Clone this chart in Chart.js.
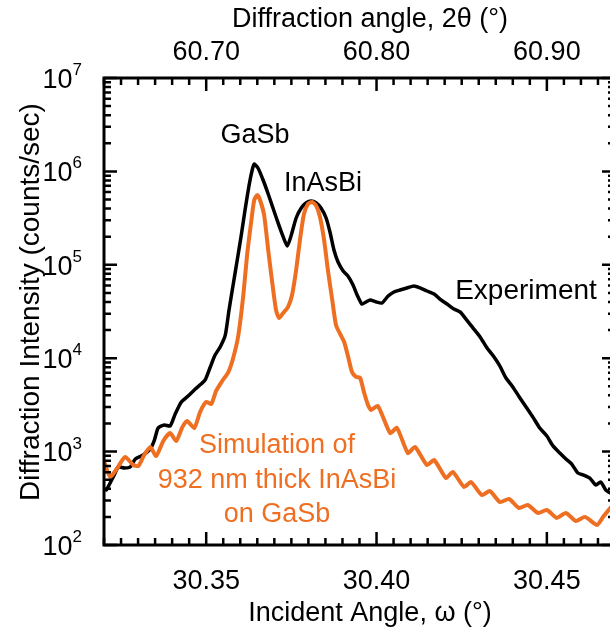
<!DOCTYPE html>
<html>
<head>
<meta charset="utf-8">
<script src="https://cdn.jsdelivr.net/npm/chart.js@4.4.1/dist/chart.umd.min.js"></script>
<style>
  html, body { margin: 0; padding: 0; background: #fff; overflow: hidden; }
  #wrap { width: 610px; height: 636px; overflow: hidden; }
</style>
</head>
<body>
<div id="wrap"><canvas id="xrd" width="618" height="636"></canvas></div>
<script>
// incident angle omega (deg) and counts/sec
const omegaExp = [30.3207, 30.3218, 30.3230, 30.3242, 30.3260, 30.3277, 30.3292, 30.3315, 30.3336, 30.3348,
  30.3359, 30.3377, 30.3394, 30.3409, 30.3427, 30.3447, 30.3468, 30.3485, 30.3497, 30.3512,
  30.3526, 30.3541, 30.3556, 30.3567, 30.3579, 30.3591, 30.3603, 30.3614, 30.3626, 30.3635,
  30.3641, 30.3652, 30.3667, 30.3682, 30.3696, 30.3711, 30.3726, 30.3738, 30.3749, 30.3764,
  30.3779, 30.3793, 30.3808, 30.3823, 30.3837, 30.3852, 30.3864, 30.3875, 30.3887, 30.3902,
  30.3916, 30.3931, 30.3943, 30.3957, 30.3969, 30.3981, 30.3999, 30.4016, 30.4034, 30.4051,
  30.4069, 30.4089, 30.4110, 30.4128, 30.4148, 30.4169, 30.4189, 30.4207, 30.4227, 30.4245,
  30.4265, 30.4283, 30.4304, 30.4324, 30.4345, 30.4362, 30.4380, 30.4400, 30.4421, 30.4441,
  30.4459, 30.4479, 30.4500, 30.4518, 30.4538, 30.4556, 30.4573, 30.4591, 30.4608, 30.4626,
  30.4644, 30.4658, 30.4673, 30.4691];
const countsExp = [388, 461, 561, 684, 667, 684, 834, 920, 1070, 1330,
  1790, 1930, 1880, 2530, 3400, 3940, 4680, 5300, 5850, 8050,
  10800, 13200, 17700, 32800, 60800, 112000, 208000, 386000, 715000, 1035000,
  1200000, 1087000, 809000, 573000, 405000, 281000, 199000, 159000, 203000, 317000,
  405000, 459000, 482000, 459000, 405000, 317000, 219000, 144000, 107000, 85900,
  75900, 60800, 47500, 38000, 40000, 42000, 40000, 39000, 46300, 51200,
  53700, 56500, 59300, 56500, 52400, 48700, 42000, 38000, 33600, 31300,
  25600, 21100, 16900, 12900, 10300, 8250, 6140, 4920, 3750, 2930,
  2340, 1790, 1470, 1150, 966, 834, 736, 590, 561, 521,
  439, 473, 388, 352];

// simulated curve, 932 nm InAsBi on GaSb
const omegaSim = [30.3201, 30.3218, 30.3239, 30.3262, 30.3286, 30.3301, 30.3318, 30.3336, 30.3353, 30.3374,
  30.3394, 30.3412, 30.3430, 30.3444, 30.3465, 30.3482, 30.3500, 30.3515, 30.3529, 30.3547,
  30.3565, 30.3579, 30.3594, 30.3609, 30.3620, 30.3632, 30.3641, 30.3650, 30.3658, 30.3670,
  30.3682, 30.3694, 30.3705, 30.3714, 30.3726, 30.3740, 30.3752, 30.3764, 30.3776, 30.3787,
  30.3799, 30.3811, 30.3823, 30.3834, 30.3846, 30.3858, 30.3870, 30.3881, 30.3893, 30.3905,
  30.3916, 30.3928, 30.3940, 30.3952, 30.3963, 30.3975, 30.3984, 30.4004, 30.4040, 30.4060,
  30.4092, 30.4113, 30.4148, 30.4169, 30.4204, 30.4224, 30.4257, 30.4277, 30.4309, 30.4333,
  30.4362, 30.4389, 30.4418, 30.4444, 30.4474, 30.4500, 30.4529, 30.4556, 30.4585, 30.4612,
  30.4647, 30.4667, 30.4691];
const countsSim = [774, 535, 667, 875, 719, 702, 920, 1120, 897, 1300,
  1580, 1300, 1830, 2130, 1790, 2650, 3400, 3240, 4460, 5700,
  7110, 10000, 17300, 47500, 127000, 287000, 494000, 558000, 494000, 341000,
  144000, 63800, 32800, 26900, 30500, 35300, 47500, 87900, 194000, 350000,
  448000, 470000, 427000, 325000, 185000, 83800, 42000, 22600, 18200, 14900,
  10600, 7110, 6300, 6140, 4350, 3160, 2790, 3080, 1580, 1790,
  966, 1120, 719, 813, 521, 605, 418, 473, 343, 378,
  288, 311, 249, 268, 220, 237, 195, 220, 181, 200,
  164, 204, 262];

const omegaLabels = [30.35, 30.40, 30.45];
const twoThetaLabels = [60.70, 60.80, 60.90];
const decadeExps = [2, 3, 4, 5, 6, 7];

const ORANGE = '#ef6f22';
const FONT = '"Liberation Sans", Arial, sans-serif';

function toPoints(xs, ys) {
  return xs.map((v, i) => ({ x: v, y: ys[i] }));
}

const framePlugin = {
  id: 'frame',
  afterDatasetsDraw(chart) {
    const { ctx, chartArea: a } = chart;
    const x = chart.scales.x, x2 = chart.scales.x2, y = chart.scales.y;
    ctx.save();
    ctx.strokeStyle = '#000';
    ctx.lineWidth = 2.5;

    // ticks, all pointing inward
    ctx.beginPath();
    for (let k = Math.ceil(x.min / 0.005 - 1e-6); k * 0.005 <= x.max + 1e-9; k++) {
      const px = x.getPixelForValue(k * 0.005);
      const len = k % 10 === 0 ? 13 : 7;
      ctx.moveTo(px, a.bottom);
      ctx.lineTo(px, a.bottom - len);
    }
    for (let k = Math.ceil(x2.min / 0.01 - 1e-6); k * 0.01 <= x2.max + 1e-9; k++) {
      const px = x2.getPixelForValue(k * 0.01);
      const len = k % 10 === 0 ? 13 : 7;
      ctx.moveTo(px, a.top);
      ctx.lineTo(px, a.top + len);
    }
    decadeExps.forEach(e => {
      for (let m = 1; m <= 9; m++) {
        const v = m * Math.pow(10, e);
        if (v > y.max * 1.0001) break;
        const py = y.getPixelForValue(v);
        const len = m === 1 ? 13 : 7;
        ctx.moveTo(a.left, py);
        ctx.lineTo(a.left + len, py);
        ctx.moveTo(a.right, py);
        ctx.lineTo(a.right - len, py);
      }
    });
    ctx.stroke();

    ctx.lineWidth = 3;
    ctx.strokeRect(a.left, a.top, a.right - a.left, a.bottom - a.top);

    // tick labels
    ctx.fillStyle = '#000';
    ctx.textBaseline = 'alphabetic';
    ctx.textAlign = 'center';
    ctx.font = '27px ' + FONT;
    omegaLabels.forEach(v => ctx.fillText(v.toFixed(2), x.getPixelForValue(v), 589));
    twoThetaLabels.forEach(v => ctx.fillText(v.toFixed(2), x2.getPixelForValue(v), 60));

    decadeExps.forEach(e => {
      const py = y.getPixelForValue(Math.pow(10, e));
      const right = 82;
      ctx.font = '17px ' + FONT;
      const we = ctx.measureText(String(e)).width;
      ctx.font = '27px ' + FONT;
      const wb = ctx.measureText('10').width;
      ctx.textAlign = 'left';
      ctx.fillText('10', right - we - wb, py + 9.7);
      ctx.font = '17px ' + FONT;
      ctx.fillText(String(e), right - we, py - 3);
    });

    // axis titles
    ctx.textAlign = 'center';
    ctx.font = '27px ' + FONT;
    ctx.fillText('Incident Angle, \u03c9 (\u00b0)', 370, 621);
    ctx.fillText('Diffraction angle, 2\u03b8 (\u00b0)', 370, 27);
    ctx.save();
    ctx.translate(39, 302);
    ctx.rotate(-Math.PI / 2);
    ctx.font = '28px ' + FONT;
    ctx.fillText('Diffraction Intensity (counts/sec)', 0, 0);
    ctx.restore();

    // annotations
    ctx.font = '27px ' + FONT;
    ctx.fillText('GaSb', 255, 143);
    ctx.fillText('InAsBi', 323, 191);
    ctx.font = '28px ' + FONT;
    ctx.fillText('Experiment', 526, 299);
    ctx.font = '27px ' + FONT;
    ctx.fillStyle = ORANGE;
    ctx.fillText('Simulation of', 277, 453);
    ctx.fillText('932 nm thick InAsBi', 277, 487.5);
    ctx.fillText('on GaSb', 277, 522);
    ctx.restore();
  }
};

new Chart(document.getElementById('xrd'), {
  type: 'line',
  data: {
    datasets: [
      {
        label: 'Simulation',
        data: toPoints(omegaSim, countsSim),
        borderColor: ORANGE,
        borderWidth: 4,
        pointRadius: 0,
        tension: 0.2,
        borderJoinStyle: 'round',
        borderCapStyle: 'round',
        order: 0,
      },
      {
        label: 'Experiment',
        data: toPoints(omegaExp, countsExp),
        borderColor: '#000',
        borderWidth: 3.5,
        pointRadius: 0,
        tension: 0.2,
        borderJoinStyle: 'round',
        borderCapStyle: 'round',
        order: 1,
      },
    ],
  },
  options: {
    responsive: false,
    animation: false,
    events: [],
    layout: { padding: { left: 104, top: 78, right: 3, bottom: 91 } },
    plugins: { legend: { display: false }, tooltip: { enabled: false } },
    scales: {
      x: { type: 'linear', min: 30.32, max: 30.47, display: false },
      x2: { type: 'linear', position: 'top', min: 60.64, max: 60.94, display: false },
      y: { type: 'logarithmic', min: 100, max: 1e7, display: false },
    },
  },
  plugins: [framePlugin],
});
</script>
</body>
</html>
